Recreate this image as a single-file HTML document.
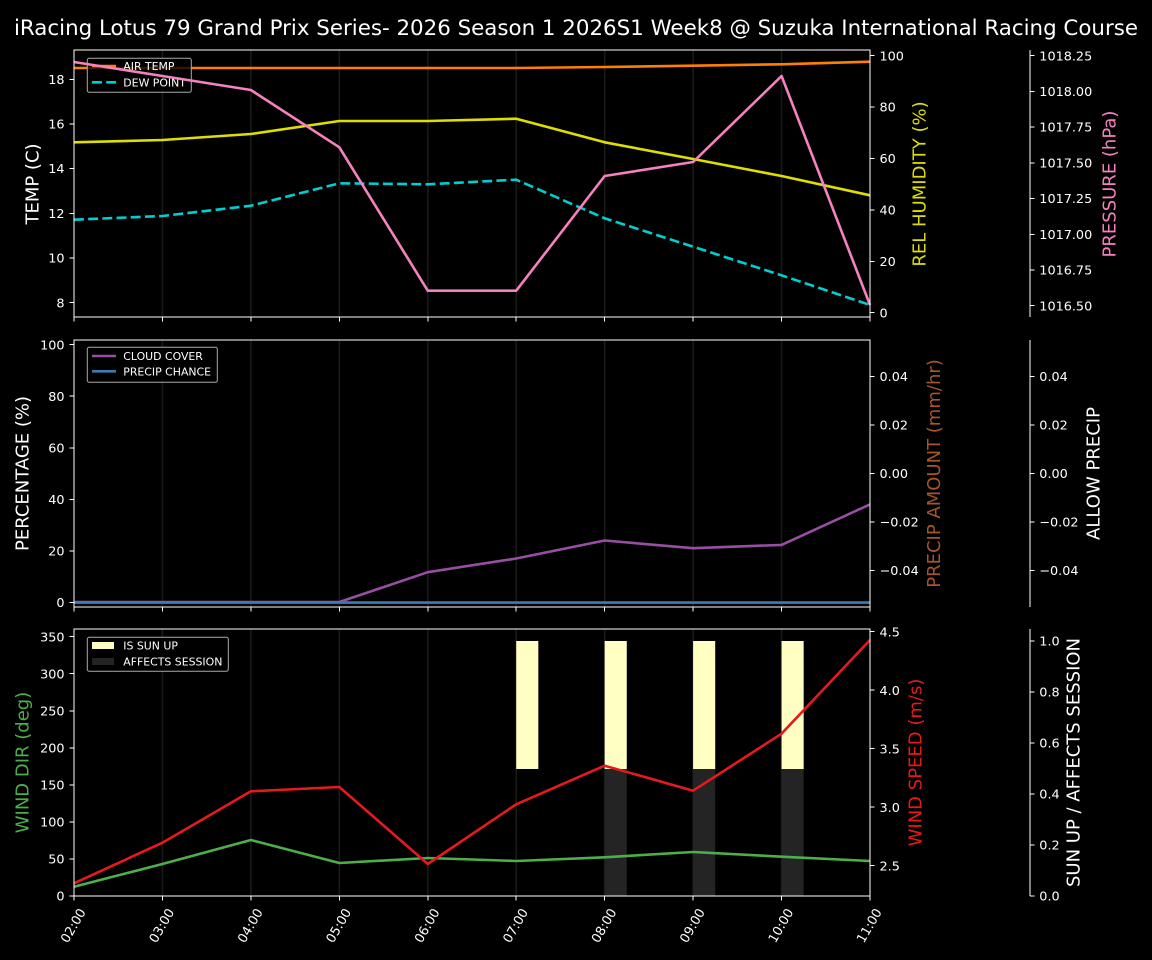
<!DOCTYPE html>
<html><head><meta charset="utf-8"><style>
html,body{margin:0;padding:0;background:#000;}
svg{display:block;}
text{font-family:"DejaVu Sans","Liberation Sans",sans-serif;fill:#fff;}
.t{font-size:12.8px;}
.l{font-size:18px;}
.g{font-size:10.9px;}
.sp{shape-rendering:crispEdges;}
</style></head><body>
<svg width="1152" height="960" viewBox="0 0 1152 960" xmlns="http://www.w3.org/2000/svg">
<rect width="1152" height="960" fill="#000"/>
<text x="576" y="35" text-anchor="middle" style="font-size:21px" textLength="1124" lengthAdjust="spacingAndGlyphs">iRacing Lotus 79 Grand Prix Series- 2026 Season 1 2026S1 Week8 @ Suzuka International Racing Course</text>

<!-- grid lines -->
<g stroke="#1a1a1a" stroke-width="1.6">
<path d="M162.44 50V317M250.89 50V317M339.33 50V317M427.78 50V317M516.22 50V317M604.67 50V317M693.11 50V317M781.56 50V317"/>
<path d="M162.44 340V607M250.89 340V607M339.33 340V607M427.78 340V607M516.22 340V607M604.67 340V607M693.11 340V607M781.56 340V607"/>
<path d="M162.44 629V896M250.89 629V896M339.33 629V896M427.78 629V896M516.22 629V896M604.67 629V896M693.11 629V896M781.56 629V896"/>
</g>

<!-- ============ PANEL 1 ============ -->
<g fill="none" stroke-width="2.6" stroke-linejoin="round">
<polyline stroke="#ff7f00" points="74,68 162.44,68 250.89,68 339.33,68 427.78,68 516.22,68 604.67,67 693.11,65.7 781.56,64.3 870,61.7"/>
<polyline stroke="#00ced1" stroke-dasharray="9.9,4.3" points="74,219.7 162.44,216 250.89,205.7 339.33,183.3 427.78,184.3 516.22,179.7 604.67,218.3 693.11,246.7 781.56,275.3 870,305"/>
</g>
<!-- legend 1 -->
<rect x="87.3" y="58.3" width="104" height="34" rx="2" fill="#000" fill-opacity="0.8" stroke="#aaa" stroke-width="1"/>
<line x1="92" y1="66" x2="116" y2="66" stroke="#ff7f00" stroke-width="2.6"/>
<line x1="92" y1="82.3" x2="116" y2="82.3" stroke="#00ced1" stroke-width="2.6" stroke-dasharray="9.9,4.3"/>
<text class="g" x="123.3" y="70">AIR TEMP</text>
<text class="g" x="123.3" y="86.3">DEW POINT</text>
<g fill="none" stroke-width="2.6" stroke-linejoin="round">
<polyline stroke="#dede00" points="74,142.3 162.44,140 250.89,134 339.33,121 427.78,121 516.22,118.7 604.67,142.3 693.11,159 781.56,176 870,195.3"/>
<polyline stroke="#f781bf" points="74,62 162.44,76 250.89,90 339.33,147.3 427.78,290.7 516.22,290.7 604.67,176 693.11,162 781.56,76 870,305"/>
</g>
<!-- spines p1 -->
<g class="sp">
<rect x="74" y="50" width="796" height="267" fill="none" stroke="#fff" stroke-width="1"/>
<line x1="1030" y1="50" x2="1030" y2="317" stroke="#fff" stroke-width="1"/>
<g stroke="#fff" stroke-width="1">
<path d="M69.3 79.3H74M69.3 124H74M69.3 168.6H74M69.3 213.3H74M69.3 258H74M69.3 302.7H74"/>
<path d="M870 55.7h4.7M870 107.1h4.7M870 158.5h4.7M870 209.9h4.7M870 261.3h4.7M870 312.7h4.7"/>
<path d="M1030 55.7h4.7M1030 91.4h4.7M1030 127.1h4.7M1030 162.8h4.7M1030 198.6h4.7M1030 234.3h4.7M1030 270h4.7M1030 305.7h4.7"/>
<path d="M74 317v4.7M162.44 317v4.7M250.89 317v4.7M339.33 317v4.7M427.78 317v4.7M516.22 317v4.7M604.67 317v4.7M693.11 317v4.7M781.56 317v4.7M870 317v4.7"/>
</g>
</g>
<g class="t" text-anchor="end">
<text class="t" x="64.5" y="83.9">18</text>
<text class="t" x="64.5" y="128.6">16</text>
<text class="t" x="64.5" y="173.2">14</text>
<text class="t" x="64.5" y="217.9">12</text>
<text class="t" x="64.5" y="262.6">10</text>
<text class="t" x="64.5" y="307.3">8</text>
</g>
<g>
<text class="t" x="879.5" y="60.3">100</text>
<text class="t" x="879.5" y="111.7">80</text>
<text class="t" x="879.5" y="163.1">60</text>
<text class="t" x="879.5" y="214.5">40</text>
<text class="t" x="879.5" y="265.9">20</text>
<text class="t" x="879.5" y="317.3">0</text>
<text class="t" x="1039.3" y="60.3">1018.25</text>
<text class="t" x="1039.3" y="96">1018.00</text>
<text class="t" x="1039.3" y="131.7">1017.75</text>
<text class="t" x="1039.3" y="167.4">1017.50</text>
<text class="t" x="1039.3" y="203.2">1017.25</text>
<text class="t" x="1039.3" y="238.9">1017.00</text>
<text class="t" x="1039.3" y="274.6">1016.75</text>
<text class="t" x="1039.3" y="310.3">1016.50</text>
</g>
<text class="l" transform="translate(38.5,184) rotate(-90)" text-anchor="middle">TEMP (C)</text>
<text class="l" transform="translate(925.3,184) rotate(-90)" text-anchor="middle" style="fill:#dede00">REL HUMIDITY (%)</text>
<text class="l" transform="translate(1115.3,184) rotate(-90)" text-anchor="middle" style="fill:#f781bf">PRESSURE (hPa)</text>

<!-- ============ PANEL 2 ============ -->
<g fill="none" stroke-width="2.6" stroke-linejoin="round">
<polyline stroke="#984ea3" points="74,602 162.44,602 250.89,602 339.33,602 427.78,572.2 516.22,558.5 604.67,540.5 693.11,548.2 781.56,544.9 870,504.4"/>
<polyline stroke="#377eb8" points="74,602.6 870,602.6"/>
</g>
<rect x="87.3" y="347.3" width="130" height="35" rx="2" fill="#000" fill-opacity="0.8" stroke="#aaa" stroke-width="1"/>
<line x1="92" y1="356" x2="116" y2="356" stroke="#984ea3" stroke-width="2.6"/>
<line x1="92" y1="371.3" x2="116" y2="371.3" stroke="#377eb8" stroke-width="2.6"/>
<text class="g" x="123.3" y="360">CLOUD COVER</text>
<text class="g" x="123.3" y="375.3">PRECIP CHANCE</text>
<g class="sp">
<rect x="74" y="340" width="796" height="267" fill="none" stroke="#fff" stroke-width="1"/>
<line x1="1030" y1="340" x2="1030" y2="607" stroke="#fff" stroke-width="1"/>
<g stroke="#fff" stroke-width="1">
<path d="M69.3 344.7H74M69.3 396.2H74M69.3 447.8H74M69.3 499.3H74M69.3 550.8H74M69.3 602.3H74"/>
<path d="M870 376.3h4.7M870 424.8h4.7M870 473.3h4.7M870 521.8h4.7M870 570.3h4.7"/>
<path d="M1030 376.3h4.7M1030 424.8h4.7M1030 473.3h4.7M1030 521.8h4.7M1030 570.3h4.7"/>
<path d="M74 607v4.7M162.44 607v4.7M250.89 607v4.7M339.33 607v4.7M427.78 607v4.7M516.22 607v4.7M604.67 607v4.7M693.11 607v4.7M781.56 607v4.7M870 607v4.7"/>
</g>
</g>
<g text-anchor="end">
<text class="t" x="64.5" y="349.3">100</text>
<text class="t" x="64.5" y="400.8">80</text>
<text class="t" x="64.5" y="452.4">60</text>
<text class="t" x="64.5" y="503.9">40</text>
<text class="t" x="64.5" y="555.4">20</text>
<text class="t" x="64.5" y="606.9">0</text>
</g>
<g>
<text class="t" x="879.5" y="380.9">0.04</text>
<text class="t" x="879.5" y="429.4">0.02</text>
<text class="t" x="879.5" y="477.9">0.00</text>
<text class="t" x="879.5" y="526.4">−0.02</text>
<text class="t" x="879.5" y="574.9">−0.04</text>
<text class="t" x="1039.3" y="380.9">0.04</text>
<text class="t" x="1039.3" y="429.4">0.02</text>
<text class="t" x="1039.3" y="477.9">0.00</text>
<text class="t" x="1039.3" y="526.4">−0.02</text>
<text class="t" x="1039.3" y="574.9">−0.04</text>
</g>
<text class="l" transform="translate(28.7,473.5) rotate(-90)" text-anchor="middle">PERCENTAGE (%)</text>
<text class="l" transform="translate(940,473.5) rotate(-90)" text-anchor="middle" style="fill:#a65628">PRECIP AMOUNT (mm/hr)</text>
<text class="l" transform="translate(1099.3,473.5) rotate(-90)" text-anchor="middle">ALLOW PRECIP</text>

<!-- ============ PANEL 3 ============ -->
<g fill="#ffffc4">
<rect x="516.22" y="641" width="22.1" height="128"/>
<rect x="604.67" y="641" width="22.1" height="128"/>
<rect x="693.11" y="641" width="22.1" height="128"/>
<rect x="781.56" y="641" width="22.1" height="128"/>
</g>
<g fill="#242424">
<rect x="604.67" y="769" width="22.1" height="127"/>
<rect x="693.11" y="769" width="22.1" height="127"/>
<rect x="781.56" y="769" width="22.1" height="127"/>
</g>
<g fill="none" stroke-width="2.6" stroke-linejoin="round">
<polyline stroke="#4daf4a" points="74,886.7 162.44,864 250.89,840 339.33,863 427.78,858 516.22,861 604.67,857.3 693.11,852 781.56,856.7 870,861"/>
<polyline stroke="#e41a1c" points="74,883.3 162.44,842.7 250.89,791.3 339.33,787 427.78,864 516.22,804.3 604.67,765.7 693.11,790.7 781.56,733.7 870,640"/>
</g>
<rect x="87.3" y="637.3" width="141" height="34" rx="2" fill="#000" fill-opacity="0.8" stroke="#aaa" stroke-width="1"/>
<rect x="92" y="642" width="22" height="7" fill="#ffffc4"/>
<rect x="92" y="658" width="22" height="7" fill="#242424"/>
<text class="g" x="123.3" y="649.3">IS SUN UP</text>
<text class="g" x="123.3" y="665.3">AFFECTS SESSION</text>
<g class="sp">
<rect x="74" y="629" width="796" height="267" fill="none" stroke="#fff" stroke-width="1"/>
<line x1="1030" y1="629" x2="1030" y2="896" stroke="#fff" stroke-width="1"/>
<g stroke="#fff" stroke-width="1">
<path d="M69.3 896H74M69.3 859H74M69.3 821.9H74M69.3 784.9H74M69.3 747.8H74M69.3 710.8H74M69.3 673.7H74M69.3 636.7H74"/>
<path d="M870 631.7h4.7M870 690.2h4.7M870 748.7h4.7M870 807.2h4.7M870 865.7h4.7"/>
<path d="M1030 896h4.7M1030 845h4.7M1030 794h4.7M1030 743h4.7M1030 692h4.7M1030 641h4.7"/>
<path d="M74 896v4.7M162.44 896v4.7M250.89 896v4.7M339.33 896v4.7M427.78 896v4.7M516.22 896v4.7M604.67 896v4.7M693.11 896v4.7M781.56 896v4.7M870 896v4.7"/>
</g>
</g>
<g text-anchor="end">
<text class="t" x="64.5" y="900.6">0</text>
<text class="t" x="64.5" y="863.6">50</text>
<text class="t" x="64.5" y="826.5">100</text>
<text class="t" x="64.5" y="789.5">150</text>
<text class="t" x="64.5" y="752.4">200</text>
<text class="t" x="64.5" y="715.4">250</text>
<text class="t" x="64.5" y="678.3">300</text>
<text class="t" x="64.5" y="641.3">350</text>
</g>
<g>
<text class="t" x="879.5" y="636.3">4.5</text>
<text class="t" x="879.5" y="694.8">4.0</text>
<text class="t" x="879.5" y="753.3">3.5</text>
<text class="t" x="879.5" y="811.8">3.0</text>
<text class="t" x="879.5" y="870.3">2.5</text>
<text class="t" x="1039.3" y="900.6">0.0</text>
<text class="t" x="1039.3" y="849.6">0.2</text>
<text class="t" x="1039.3" y="798.6">0.4</text>
<text class="t" x="1039.3" y="747.6">0.6</text>
<text class="t" x="1039.3" y="696.6">0.8</text>
<text class="t" x="1039.3" y="645.6">1.0</text>
</g>
<text class="l" transform="translate(28.7,762.5) rotate(-90)" text-anchor="middle" style="fill:#4daf4a">WIND DIR (deg)</text>
<text class="l" transform="translate(921.3,762.5) rotate(-90)" text-anchor="middle" style="fill:#e41a1c">WIND SPEED (m/s)</text>
<text class="l" transform="translate(1079.3,762.5) rotate(-90)" text-anchor="middle">SUN UP / AFFECTS SESSION</text>

<!-- x tick labels -->
<g text-anchor="middle" dominant-baseline="central">
<text class="t" transform="translate(74,926) rotate(-60)">02:00</text>
<text class="t" transform="translate(162.44,926) rotate(-60)">03:00</text>
<text class="t" transform="translate(250.89,926) rotate(-60)">04:00</text>
<text class="t" transform="translate(339.33,926) rotate(-60)">05:00</text>
<text class="t" transform="translate(427.78,926) rotate(-60)">06:00</text>
<text class="t" transform="translate(516.22,926) rotate(-60)">07:00</text>
<text class="t" transform="translate(604.67,926) rotate(-60)">08:00</text>
<text class="t" transform="translate(693.11,926) rotate(-60)">09:00</text>
<text class="t" transform="translate(781.56,926) rotate(-60)">10:00</text>
<text class="t" transform="translate(870,926) rotate(-60)">11:00</text>
</g>
</svg>
</body></html>
